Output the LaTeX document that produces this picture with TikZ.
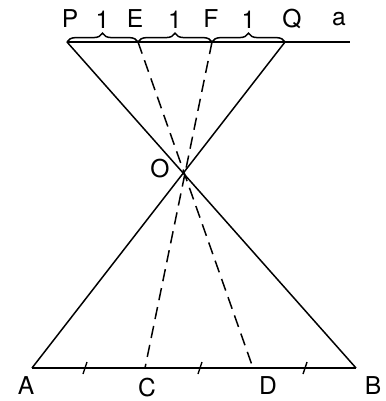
\documentclass[tikz,border=0pt]{standalone}
\usepackage{fontspec}
\setmainfont{TeX Gyre Heros}
\usetikzlibrary{
    calc,
    decorations.pathreplacing
}

\begin{document}
\begin{tikzpicture}[x=0.02cm,y=-0.02cm,line width=0.85pt,
    lbl/.style={font=\fontsize{14}{16}\selectfont},
    tick/.style={line width=0.8pt}]
\useasboundingbox (0,0) rectangle (385,401);

% Points
\coordinate (P) at (67,42);
\coordinate (E) at (138,42);
\coordinate (F) at (212,42);
\coordinate (Q) at (285,42);
\coordinate (aEnd) at (350,42);
\coordinate (A) at (32,368);
\coordinate (C) at (145,368);
\coordinate (D) at (253,368);
\coordinate (B) at (356,368);

% Line a and AB
\draw (P) -- (aEnd);
\draw (A) -- (B);

% Crossing lines through O
\draw (P) -- (B);
\draw (Q) -- (A);
\draw[dashed,dash pattern=on 7pt off 4pt] (E) -- (D);
\draw[dashed,dash pattern=on 7pt off 4pt] (F) -- (C);

% Braces
\draw[decorate,decoration={brace,amplitude=5pt}] (P) -- (E) node[lbl,midway,above=4pt] (one1) {1};
\draw[decorate,decoration={brace,amplitude=5pt}] (E) -- (F) node[lbl,midway,above=4pt] (one2) {1};
\draw[decorate,decoration={brace,amplitude=5pt}] (F) -- (Q) node[lbl,midway,above=4pt] (one3) {1};

% Ticks on AB
\foreach \x/\n in {85/t1,200/t2,305/t3}
    \draw[tick] (\x-2,374) -- (\x+2,362);

% Labels
\node[lbl] (lP) at (70,19) {P};
\node[lbl] (lE) at (135,19) {E};
\node[lbl] (lF) at (211,19) {F};
\node[lbl] (lQ) at (292,19) {Q};
\node[lbl] (la) at (339,19) {a};
\node[lbl] (lO) at (160,169) {O};
\node[lbl] (lA) at (26,386) {A};
\node[lbl] (lC) at (147,388) {C};
\node[lbl] (lD) at (268,386) {D};
\node[lbl] (lB) at (373,386) {B};

\end{tikzpicture}
\end{document}
